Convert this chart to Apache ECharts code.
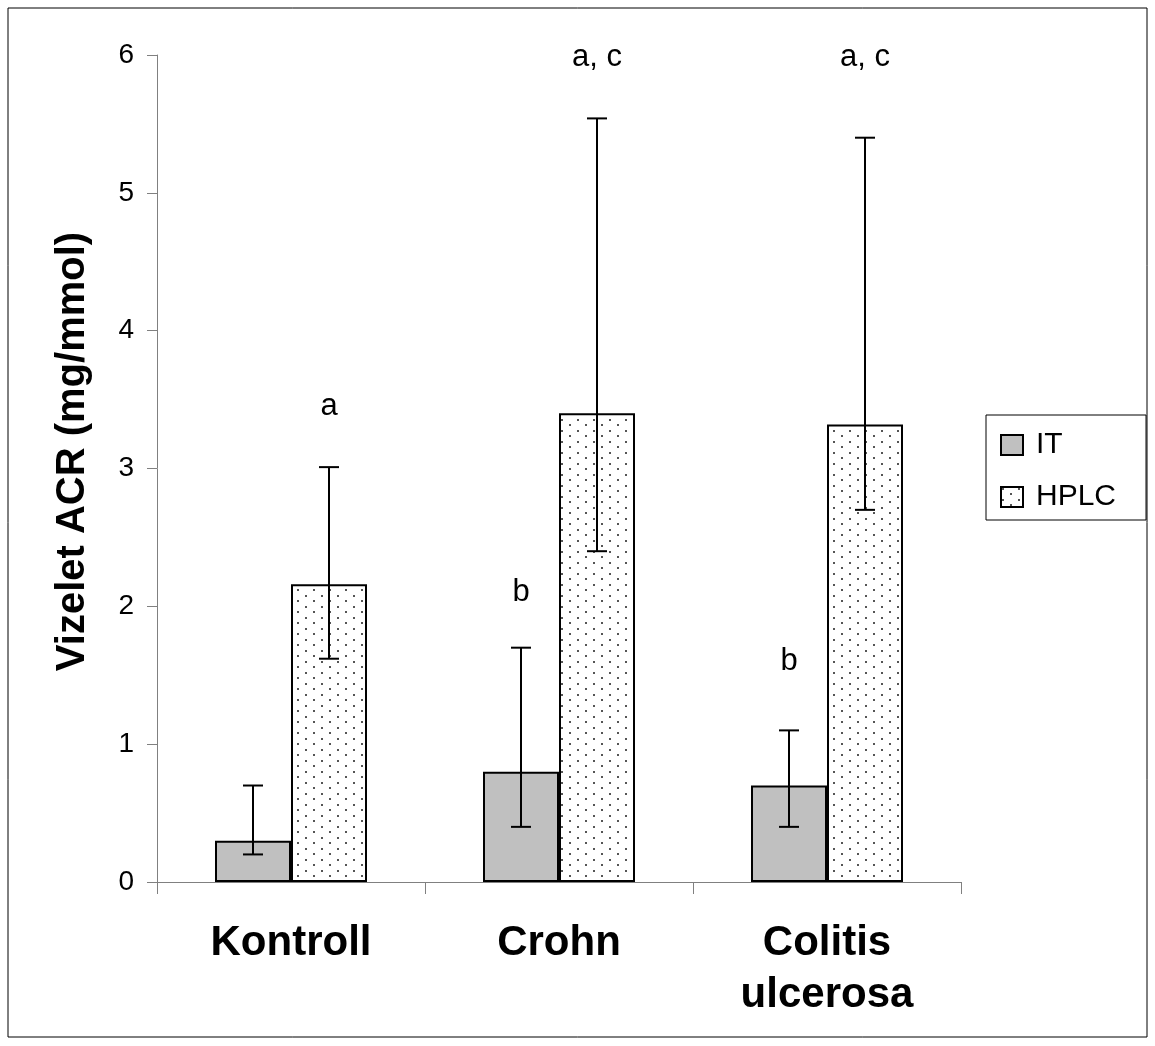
<!DOCTYPE html>
<html>
<head>
<meta charset="utf-8">
<script src="https://cdn.jsdelivr.net/npm/echarts@6/dist/echarts.min.js"></script>
<style>
  html, body { margin: 0; padding: 0; background: #fff; }
  #chart { width: 1155px; height: 1046px; }
</style>
</head>
<body>
<div id="chart"></div>
<script>
// data
const categories = ["Kontroll", "Crohn", "Colitis\nulcerosa"];
const itValues = [0.3, 0.8, 0.7];
const itLow = [0.2, 0.4, 0.4];
const itHigh = [0.7, 1.7, 1.1];
const hplcValues = [2.16, 3.4, 3.32];
const hplcLow = [1.62, 2.4, 2.7];
const hplcHigh = [3.01, 5.54, 5.4];
const itNotes = ["", "b", "b"];
const itNoteY = [0, 2.1, 1.6];
const hplcNotes = ["a", "a, c", "a, c"];
const hplcNoteY = [3.45, 5.98, 5.98];

const FONT = "Liberation Sans, Arial";

// dotted fill for HPLC
function dotPattern() {
  const c = document.createElement("canvas");
  c.width = 16; c.height = 11;
  const ctx = c.getContext("2d");
  ctx.fillStyle = "#fff";
  ctx.fillRect(0, 0, 16, 11);
  ctx.fillStyle = "#555";
  ctx.fillRect(1, 1, 2, 2);
  ctx.fillRect(9, 6, 2, 2);
  return c;
}
const hplcFill = { image: dotPattern(), repeat: "repeat" };

const chart = echarts.init(document.getElementById("chart"));

// error bars, side = -1 for IT, +1 for HPLC
function errorBars(low, high, side) {
  return {
    type: "custom",
    z: 10,
    silent: true,
    data: low.map((l, i) => [i, l, high[i]]),
    renderItem(params, api) {
      const lo = api.coord([api.value(0), api.value(1)]);
      const hi = api.coord([api.value(0), api.value(2)]);
      const x = lo[0] + side * 38;
      const cap = 10;
      const st = { stroke: "#000", lineWidth: 2 };
      return {
        type: "group",
        children: [
          { type: "line", shape: { x1: x, y1: lo[1], x2: x, y2: hi[1] }, style: st },
          { type: "line", shape: { x1: x - cap, y1: lo[1], x2: x + cap, y2: lo[1] }, style: st },
          { type: "line", shape: { x1: x - cap, y1: hi[1], x2: x + cap, y2: hi[1] }, style: st }
        ]
      };
    }
  };
}

// significance letters above bars
function notes(texts, ys, side) {
  return {
    type: "custom",
    z: 11,
    silent: true,
    data: texts.map((t, i) => [i, ys[i]]),
    renderItem(params, api) {
      const p = api.coord([api.value(0), api.value(1)]);
      return {
        type: "text",
        x: p[0] + side * 38,
        y: p[1],
        style: {
          text: texts[params.dataIndex],
          fontFamily: FONT,
          fontSize: 31,
          fill: "#000",
          align: "center",
          verticalAlign: "middle"
        }
      };
    }
  };
}

const option = {
  backgroundColor: "#fff",
  animation: false,
  graphic: [{
    type: "rect",
    shape: { x: 8, y: 8, width: 1139, height: 1029 },
    style: { fill: "none", stroke: "#000", lineWidth: 1 }
  }],
  legend: {
    orient: "vertical",
    left: 986,
    top: 415,
    padding: [15, 30, 8, 14],
    itemGap: 22,
    itemWidth: 22,
    itemHeight: 20,
    borderColor: "#000",
    borderWidth: 1,
    borderRadius: 0,
    textStyle: { fontFamily: FONT, fontSize: 30, color: "#000", padding: [0, 0, 0, 8] },
    data: [
      { name: "IT", icon: "rect", itemStyle: { borderColor: "#000", borderWidth: 2 } },
      { name: "HPLC", icon: "rect", itemStyle: { borderColor: "#000", borderWidth: 2 } }
    ]
  },
  grid: { left: 157, right: 194, top: 55, bottom: 164 },
  xAxis: {
    type: "category",
    data: categories,
    axisLine: { lineStyle: { color: "#808080", width: 1 } },
    axisTick: { show: true, length: 12, lineStyle: { color: "#808080" } },
    axisLabel: {
      margin: 35,
      fontFamily: FONT,
      fontWeight: "bold",
      fontSize: 42,
      lineHeight: 52,
      color: "#000"
    }
  },
  yAxis: {
    type: "value",
    min: 0,
    max: 6,
    interval: 1,
    name: "Vizelet ACR (mg/mmol)",
    nameLocation: "middle",
    nameGap: 64,
    nameTextStyle: { fontFamily: FONT, fontWeight: "bold", fontSize: 40, color: "#000", padding: [0, 0, 0, 34] },
    axisLine: { show: true, lineStyle: { color: "#808080", width: 1 } },
    axisTick: { show: true, length: 10, lineStyle: { color: "#808080" } },
    splitLine: { show: false },
    axisLabel: { margin: 23, fontFamily: FONT, fontSize: 28, color: "#000" }
  },
  series: [
    {
      name: "IT",
      type: "bar",
      data: itValues,
      barWidth: 76,
      barGap: "0%",
      itemStyle: { color: "#c0c0c0", borderColor: "#000", borderWidth: 2 }
    },
    {
      name: "HPLC",
      type: "bar",
      data: hplcValues,
      barWidth: 76,
      barGap: "0%",
      itemStyle: { color: hplcFill, borderColor: "#000", borderWidth: 2 }
    },
    errorBars(itLow, itHigh, -1),
    errorBars(hplcLow, hplcHigh, 1),
    notes(itNotes, itNoteY, -1),
    notes(hplcNotes, hplcNoteY, 1)
  ]
};

chart.setOption(option);
</script>
</body>
</html>
